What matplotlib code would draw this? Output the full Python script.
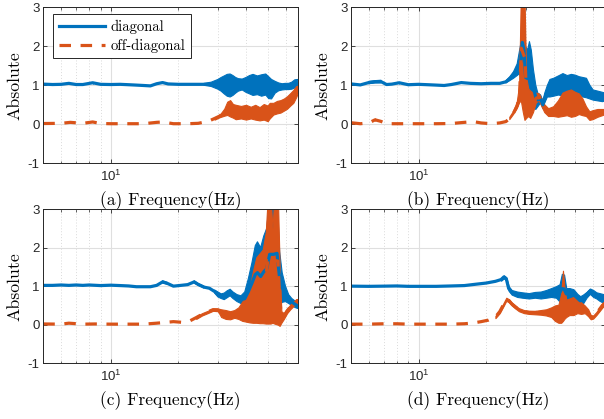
import numpy as np
import matplotlib
matplotlib.use("Agg")
import matplotlib.pyplot as plt
from matplotlib.ticker import LogLocator, LogFormatterSciNotation, NullFormatter, FixedLocator

plt.rcParams['font.family'] = ['Liberation Sans', 'DejaVu Sans']
plt.rcParams['axes.unicode_minus'] = False

BLUE = '#0072BD'
ORANGE = '#D95319'

# ---------------- data (frequency in Hz, lower / upper envelope of |H|) ----------------
# (a)
a_diag_f  = [5.0, 5.5, 6.0, 6.5, 7.0, 7.5, 8.3, 9.0, 10, 11, 12, 13, 14, 15, 16, 17, 18, 20, 22, 24, 26, 28, 30, 31, 32, 33, 34, 35, 36, 37, 38.5, 40, 41.5, 43, 45, 47, 49, 50.5, 52, 54, 56, 58, 60, 62, 64, 66, 68]
a_diag_lo = [1.02, 1.01, 1.01, 1.03, 1.01, 1.01, 1.04, 1.01, 1.01, 1.01, 1.00, 0.99, 0.98, 0.97, 1.02, 1.05, 1.02, 1.01, 1.01, 1.01, 1.00, 0.97, 0.90, 0.85, 0.78, 0.72, 0.70, 0.74, 0.80, 0.85, 0.88, 0.82, 0.78, 0.74, 0.76, 0.72, 0.75, 0.66, 0.65, 0.80, 0.86, 0.88, 0.89, 0.89, 0.90, 0.93, 0.92]
a_diag_hi = [1.04, 1.03, 1.04, 1.07, 1.03, 1.03, 1.09, 1.04, 1.03, 1.04, 1.03, 1.02, 1.01, 1.00, 1.06, 1.09, 1.05, 1.04, 1.04, 1.04, 1.05, 1.08, 1.15, 1.20, 1.24, 1.28, 1.29, 1.25, 1.20, 1.17, 1.16, 1.20, 1.25, 1.28, 1.24, 1.27, 1.29, 1.22, 1.15, 1.10, 1.06, 1.04, 1.05, 1.05, 1.08, 1.14, 1.15]
a_off_f  = [5.0, 6.0, 6.6, 7.5, 8.3, 9.0, 10, 12, 14, 16, 17, 19, 22, 24.5, 26, 27.5, 29, 30.5, 32, 33, 34, 35, 36, 38, 40, 42, 44, 46, 48, 50, 51, 53, 55, 57, 59, 61, 63, 65, 67, 68]
a_off_lo = [0.00, 0.01, 0.03, 0.01, 0.04, 0.00, 0.00, 0.00, 0.00, 0.03, 0.04, 0.00, 0.00, 0.01, 0.04, 0.07, 0.12, 0.18, 0.22, 0.24, 0.20, 0.17, 0.13, 0.15, 0.12, 0.15, 0.12, 0.10, 0.12, 0.08, 0.15, 0.25, 0.28, 0.30, 0.35, 0.40, 0.48, 0.55, 0.70, 0.80]
a_off_hi = [0.04, 0.04, 0.07, 0.04, 0.08, 0.04, 0.03, 0.03, 0.03, 0.07, 0.08, 0.03, 0.03, 0.04, 0.07, 0.11, 0.18, 0.24, 0.40, 0.58, 0.62, 0.52, 0.50, 0.47, 0.50, 0.45, 0.50, 0.44, 0.52, 0.48, 0.55, 0.55, 0.60, 0.62, 0.66, 0.72, 0.80, 0.88, 0.98, 1.00]

# (b)
b_diag_f  = [5.0, 5.5, 6.0, 6.4, 6.8, 7.2, 7.6, 8.2, 9, 10, 11, 12, 13, 14, 15.5, 17, 19, 21, 23, 24.5, 25.5, 26.5, 27.5, 28.2, 28.6, 29.0, 29.5, 30.0, 30.6, 31.2, 31.8, 32.5, 33.3, 34.0, 35.0, 35.8, 36.5, 37.5, 38.5, 40, 42, 44, 46, 48, 50, 52, 54, 56, 58, 60, 63, 66, 68]
b_diag_lo = [1.02, 0.99, 1.04, 1.06, 1.06, 1.00, 1.01, 1.04, 1.00, 1.01, 1.00, 0.99, 0.98, 1.00, 1.05, 1.03, 1.02, 1.03, 1.03, 1.06, 1.12, 1.18, 1.25, 1.30, 1.10, 0.90, 0.50, 0.40, 0.45, 0.70, 0.60, 0.45, 0.38, 0.45, 0.55, 0.40, 0.55, 0.70, 0.70, 0.72, 0.75, 0.73, 0.70, 0.75, 0.72, 0.72, 0.70, 0.68, 0.65, 0.62, 0.60, 0.58, 0.60]
b_diag_hi = [1.05, 1.03, 1.10, 1.12, 1.13, 1.04, 1.05, 1.09, 1.03, 1.04, 1.03, 1.02, 1.01, 1.04, 1.09, 1.07, 1.06, 1.07, 1.07, 1.12, 1.22, 1.35, 1.55, 1.90, 2.10, 3.30, 3.30, 2.00, 1.90, 2.12, 1.90, 1.40, 1.00, 0.80, 0.75, 0.60, 0.80, 1.00, 1.15, 1.18, 1.24, 1.30, 1.25, 1.28, 1.26, 1.22, 1.20, 1.18, 1.00, 0.88, 0.85, 0.82, 0.80]
b_off_f  = [5.0, 5.5, 6.0, 6.4, 6.8, 7.2, 8, 9, 10, 12, 14, 16, 17.5, 19, 21, 23, 24.5, 25.5, 26.5, 27.5, 28.2, 28.7, 29.3, 29.8, 30.3, 31.0, 31.6, 32.5, 33.5, 34.5, 35.5, 36.5, 38, 40, 42, 44, 46, 48, 50, 52, 54, 56, 58, 60, 63, 66, 68]
b_off_lo = [0.02, 0.00, 0.02, 0.08, 0.05, 0.00, 0.00, 0.00, 0.00, 0.00, 0.00, 0.03, 0.05, 0.02, 0.00, 0.02, 0.05, 0.12, 0.25, 0.40, 0.55, 0.60, 0.30, 0.10, 0.15, 0.20, 0.15, 0.30, 0.55, 0.60, 0.45, 0.30, 0.20, 0.20, 0.18, 0.20, 0.22, 0.18, 0.20, 0.25, 0.22, 0.20, 0.10, 0.12, 0.18, 0.22, 0.25]
b_off_hi = [0.06, 0.03, 0.05, 0.15, 0.10, 0.03, 0.03, 0.03, 0.03, 0.03, 0.04, 0.07, 0.09, 0.05, 0.03, 0.05, 0.09, 0.18, 0.33, 0.55, 1.00, 3.30, 3.30, 3.30, 1.20, 0.90, 0.85, 0.80, 0.80, 0.78, 0.65, 0.50, 0.40, 0.45, 0.60, 0.80, 0.85, 0.88, 0.82, 0.78, 0.65, 0.45, 0.32, 0.35, 0.38, 0.38, 0.38]

# (c)
c_diag_f  = [5.0, 5.5, 6, 6.5, 7, 7.5, 8, 9, 10, 11, 12, 13, 14, 15, 16, 17, 17.8, 19, 20.5, 22, 23.5, 24.5, 26, 27.5, 29, 30, 31, 32, 33, 34, 35, 36.5, 38, 39.5, 41, 42.5, 44, 45, 46.5, 48, 49.5, 51, 53, 55, 56.5, 58, 60, 62, 64, 66, 68]
c_diag_lo = [1.00, 1.00, 1.01, 1.00, 1.01, 1.00, 1.01, 1.00, 1.01, 1.00, 0.99, 0.97, 0.97, 0.97, 1.00, 1.08, 1.05, 0.98, 1.00, 1.02, 1.08, 1.02, 0.95, 0.92, 0.82, 0.72, 0.68, 0.65, 0.70, 0.75, 0.68, 0.60, 0.55, 0.50, 0.52, 0.55, 0.55, 0.55, 0.50, 0.45, 0.40, 0.35, 0.35, 0.40, 0.50, 0.58, 0.60, 0.55, 0.50, 0.45, 0.42]
c_diag_hi = [1.04, 1.04, 1.05, 1.04, 1.05, 1.04, 1.05, 1.03, 1.04, 1.03, 1.02, 1.00, 1.00, 1.00, 1.04, 1.14, 1.10, 1.02, 1.04, 1.06, 1.14, 1.07, 1.00, 0.97, 0.90, 0.85, 0.80, 0.82, 0.88, 0.92, 0.85, 0.78, 0.75, 0.85, 1.20, 1.60, 2.05, 2.15, 2.00, 2.30, 2.50, 3.30, 3.30, 3.30, 1.90, 1.35, 1.00, 0.78, 0.68, 0.62, 0.55]
c_off_f  = [5, 6, 6.5, 7.5, 8.5, 10, 12, 14, 16, 17.5, 19, 21, 22.5, 24, 25.5, 27, 28.5, 30, 31, 32.5, 34, 35.5, 37, 38.5, 40, 41.5, 43, 44.5, 46, 47.5, 49, 50, 51.5, 52.5, 53.5, 55.5, 56.5, 57.5, 59, 61, 63, 65, 67, 68]
c_off_lo = [0.00, 0.00, 0.02, 0.00, 0.00, 0.00, 0.00, 0.00, 0.02, 0.04, 0.06, 0.04, 0.08, 0.15, 0.24, 0.30, 0.36, 0.35, 0.20, 0.15, 0.14, 0.18, 0.15, 0.10, 0.08, 0.06, 0.05, 0.05, 0.04, 0.04, 0.03, 0.03, 0.03, 0.05, 0.03, 0.00, -0.03, 0.05, 0.15, 0.30, 0.40, 0.48, 0.55, 0.58]
c_off_hi = [0.04, 0.03, 0.06, 0.03, 0.04, 0.03, 0.03, 0.03, 0.06, 0.08, 0.10, 0.08, 0.12, 0.22, 0.30, 0.36, 0.42, 0.42, 0.40, 0.38, 0.35, 0.38, 0.45, 0.60, 0.75, 0.95, 1.40, 1.75, 1.85, 1.95, 2.40, 3.30, 3.30, 2.50, 3.30, 3.30, 1.50, 0.35, 0.30, 0.42, 0.52, 0.60, 0.66, 0.67]

# (d)
d_diag_f  = [5, 6, 7, 8, 9, 10, 12, 14, 16, 18, 20, 22, 23.3, 24.0, 24.6, 25.2, 26, 27.5, 29, 31, 33, 35, 37, 39, 41, 42.5, 43.5, 44.5, 45.5, 47, 49, 51, 52.5, 54, 56, 58, 60, 62, 64, 66, 68]
d_diag_lo = [0.98, 0.98, 0.98, 0.99, 0.98, 0.98, 0.98, 0.99, 1.00, 1.03, 1.06, 1.10, 1.14, 1.20, 1.15, 0.88, 0.78, 0.72, 0.70, 0.68, 0.70, 0.68, 0.70, 0.72, 0.70, 0.60, 0.55, 0.55, 0.65, 0.68, 0.65, 0.58, 0.50, 0.55, 0.70, 0.80, 0.72, 0.68, 0.62, 0.58, 0.58]
d_diag_hi = [1.02, 1.01, 1.02, 1.02, 1.01, 1.01, 1.01, 1.02, 1.03, 1.07, 1.10, 1.15, 1.20, 1.28, 1.23, 1.00, 0.90, 0.86, 0.84, 0.82, 0.85, 0.86, 0.90, 0.95, 1.00, 1.05, 1.32, 1.30, 0.95, 0.95, 0.92, 0.80, 0.74, 0.78, 0.85, 0.94, 0.90, 0.84, 0.82, 0.80, 0.78]
d_off_f  = [5, 6, 7, 8, 9, 10, 12, 14, 16, 17.5, 19, 20.5, 22, 23, 24, 24.6, 25.3, 26, 27, 28, 29.5, 31, 33, 35, 37, 39, 40.5, 42, 43.2, 44.0, 44.6, 45.5, 47, 49, 51, 53, 55, 57, 58.5, 60, 62, 64, 66, 68]
d_off_lo = [0.00, 0.00, 0.01, 0.01, 0.00, 0.00, 0.00, 0.00, 0.01, 0.03, 0.06, 0.10, 0.17, 0.30, 0.50, 0.62, 0.58, 0.50, 0.42, 0.35, 0.30, 0.28, 0.27, 0.26, 0.24, 0.20, 0.10, 0.05, 0.05, 0.10, 0.15, 0.20, 0.25, 0.25, 0.30, 0.28, 0.30, 0.22, 0.14, 0.16, 0.25, 0.35, 0.45, 0.52]
d_off_hi = [0.03, 0.03, 0.04, 0.04, 0.03, 0.03, 0.03, 0.03, 0.04, 0.06, 0.10, 0.14, 0.23, 0.38, 0.58, 0.70, 0.66, 0.58, 0.50, 0.43, 0.38, 0.36, 0.36, 0.38, 0.40, 0.45, 0.50, 0.52, 0.80, 1.40, 1.00, 0.65, 0.68, 0.72, 0.65, 0.58, 0.50, 0.40, 0.25, 0.24, 0.33, 0.45, 0.56, 0.62]

panel_labels = ['(a) Frequency(Hz)', '(b) Frequency(Hz)', '(c) Frequency(Hz)', '(d) Frequency(Hz)']
legend_labels = ['diagonal', 'off-diagonal']
y_ticks = [-1, 0, 1, 2, 3]

panels = [
    (a_diag_f, a_diag_lo, a_diag_hi, a_off_f, a_off_lo, a_off_hi),
    (b_diag_f, b_diag_lo, b_diag_hi, b_off_f, b_off_lo, b_off_hi),
    (c_diag_f, c_diag_lo, c_diag_hi, c_off_f, c_off_lo, c_off_hi),
    (d_diag_f, d_diag_lo, d_diag_hi, d_off_f, d_off_lo, d_off_hi),
]

W, H = 604, 419
fig = plt.figure(figsize=(W / 100, H / 100), dpi=100)

# axes rectangles in pixels: left, top, width, height
rects = [(43.3, 7.3, 254.4, 156.0), (351.0, 7.3, 254.4, 156.0),
         (43.3, 209.0, 254.4, 154.3), (351.0, 209.0, 254.4, 154.3)]

SERIF = 'cmr10'
LW = 2.3

def draw_series(ax, f, lo, hi, color, dashed):
    f = np.asarray(f, float)
    lo = np.asarray(lo, float)
    hi = np.asarray(hi, float)
    mid = (lo + hi) / 2
    if dashed:
        line, = ax.plot(f, mid, color=color, lw=LW, dashes=(3.6, 3.0), solid_capstyle='butt')
    else:
        line, = ax.plot(f, mid, color=color, lw=LW)
    wide = (hi - lo) > 0.05
    ax.fill_between(f, lo, hi, where=wide, color=color, lw=0.8, edgecolor=color)
    return line

for i, (rect, data) in enumerate(zip(rects, panels)):
    l, t, w, h = rect
    ax = fig.add_axes([l / W, 1 - (t + h) / H, w / W, h / H])
    df, dlo, dhi, of, olo, ohi = data
    l1 = draw_series(ax, df, dlo, dhi, BLUE, False)
    l2 = draw_series(ax, of, olo, ohi, ORANGE, True)
    ax.set_xscale('log')
    ax.set_xlim(5, 68)
    ax.set_ylim(-1, 3)
    ax.set_yticks(y_ticks)
    ax.set_yticklabels([str(v) for v in y_ticks])
    ax.xaxis.set_major_locator(FixedLocator([10]))
    ax.xaxis.set_major_formatter(LogFormatterSciNotation())
    ax.xaxis.set_minor_locator(LogLocator(base=10, subs=np.arange(2, 10)))
    ax.xaxis.set_minor_formatter(NullFormatter())
    ax.grid(True, which='major', color='#dfdfdf', lw=0.8, ls='-')
    ax.grid(True, which='minor', axis='x', color='#dadada', lw=0.7, ls=(0, (1, 2)))
    ax.set_axisbelow(True)
    ax.tick_params(which='both', direction='in', top=True, right=True,
                   labelsize=9.5, colors='#262626', pad=2.5)
    ax.tick_params(axis='x', which='major', pad=4)
    ax.tick_params(which='major', length=3, width=0.6)
    ax.tick_params(which='minor', length=1.8, width=0.5)
    for s in ax.spines.values():
        s.set_color('#262626')
        s.set_linewidth(0.7)
    ax.set_xlabel(panel_labels[i], fontfamily=SERIF, fontsize=12.5, labelpad=5)
    ax.set_ylabel('Absolute', fontfamily=SERIF, fontsize=12.8, labelpad=4)
    if i == 0:
        leg = ax.legend([l1, l2], legend_labels, loc='upper left',
                        bbox_to_anchor=(0.037, 0.957), borderaxespad=0,
                        prop={'family': SERIF, 'size': 10.5}, handlelength=3.2,
                        frameon=True, fancybox=False, framealpha=1,
                        edgecolor='#262626', borderpad=0.4, labelspacing=0.3,
                        handletextpad=0.35)
        leg.get_frame().set_linewidth(0.7)

fig.savefig('out.png', dpi=100)
